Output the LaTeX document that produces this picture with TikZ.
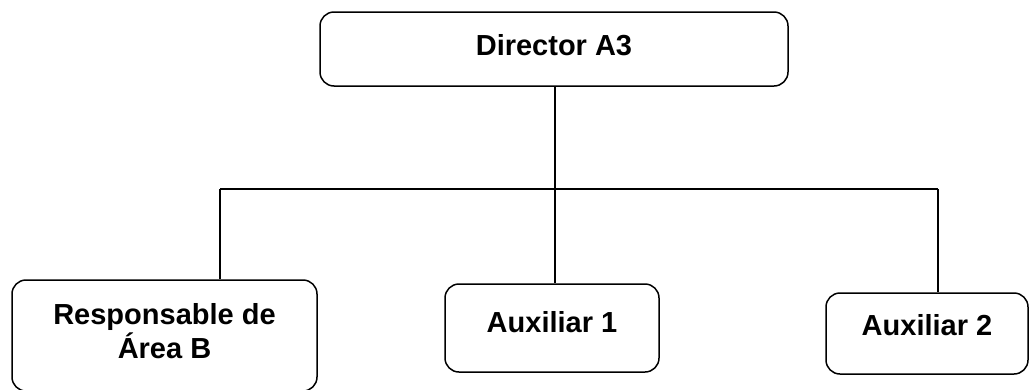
\documentclass[tikz,border=0pt]{standalone}
\usepackage{fontspec}
\setmainfont{Liberation Sans}
\usepackage{tikz}
\usetikzlibrary{positioning}

\begin{document}
\begin{tikzpicture}[
x=1pt, y=1pt,
box/.style={draw=black, line width=1.5pt, rounded corners=14pt, align=center, inner sep=0pt, font=\fontsize{29}{34}\selectfont\bfseries},
link/.style={draw=black, line width=1.5pt}
]
\useasboundingbox (0,0) rectangle (1029,-389);
% top box
\node[box, minimum width=468pt, minimum height=74pt, text depth=8pt] (dir) at (554,-49) {Director A3};
% bottom row
\node[box, minimum width=305pt, minimum height=111pt, text depth=10pt] (resp) at (164.5,-335.5) {Responsable de\\Área B};
\node[box, minimum width=214pt, minimum height=88pt, text depth=12pt] (aux1) at (552,-328) {Auxiliar 1};
\node[box, minimum width=202pt, minimum height=81pt, text depth=17pt] (aux2) at (927,-333.5) {Auxiliar 2};
% bus line
\coordinate (jL) at (220,-189);
\coordinate (jM) at (555,-189);
\coordinate (jR) at (938,-189);
\draw[link] (dir.south -| jM) -- (jM);
\draw[link] (jL) -- (jR);
\draw[link] (jL) -- (jL |- resp.north);
\draw[link] (jM) -- (jM |- aux1.north);
\draw[link] (jR) -- (jR |- aux2.north);
\end{tikzpicture}
\end{document}
